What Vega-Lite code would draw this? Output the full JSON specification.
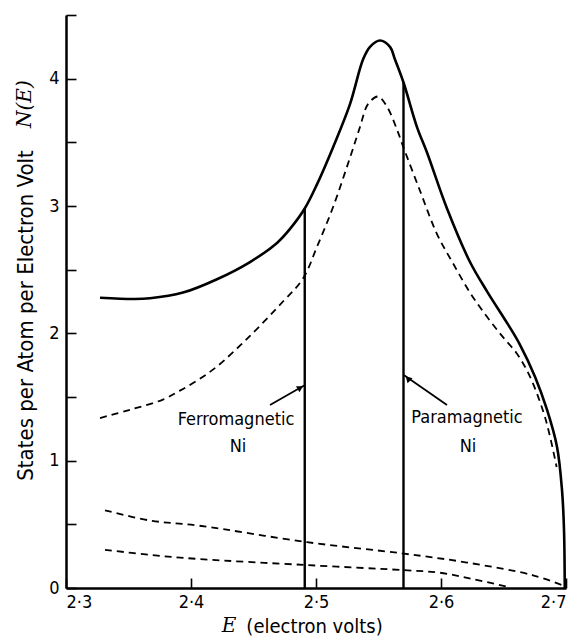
{
  "$schema": "https://vega.github.io/schema/vega-lite/v6.json",
  "width": 500,
  "height": 573,
  "autosize": "none",
  "padding": {"left": 66, "top": 15, "right": 11, "bottom": 54},
  "background": "white",
  "config": {
    "view": {"stroke": null},
    "font": "DejaVu Sans Condensed",
    "axis": {
      "grid": false,
      "domainColor": "black",
      "domainWidth": 2.5,
      "tickColor": "black",
      "tickWidth": 1.6,
      "tickSize": -10,
      "labelColor": "black",
      "labelFont": "DejaVu Sans Condensed",
      "labelFontSize": 18,
      "titleColor": "black",
      "titleFont": "DejaVu Sans Condensed",
      "titleFontWeight": "normal"
    }
  },
  "datasets": {
    "curves": [
      {"s": "total", "E": 2.3272, "N": 2.28},
      {"s": "total", "E": 2.3536, "N": 2.27},
      {"s": "total", "E": 2.3672, "N": 2.275},
      {"s": "total", "E": 2.3936, "N": 2.32},
      {"s": "total", "E": 2.4208, "N": 2.425},
      {"s": "total", "E": 2.4472, "N": 2.56},
      {"s": "total", "E": 2.4688, "N": 2.71},
      {"s": "total", "E": 2.4792, "N": 2.82},
      {"s": "total", "E": 2.491, "N": 2.98},
      {"s": "total", "E": 2.5008, "N": 3.17},
      {"s": "total", "E": 2.5136, "N": 3.46},
      {"s": "total", "E": 2.5272, "N": 3.80},
      {"s": "total", "E": 2.5376, "N": 4.15},
      {"s": "total", "E": 2.5432, "N": 4.25},
      {"s": "total", "E": 2.5512, "N": 4.30},
      {"s": "total", "E": 2.5592, "N": 4.25},
      {"s": "total", "E": 2.5632, "N": 4.15},
      {"s": "total", "E": 2.57, "N": 3.97},
      {"s": "total", "E": 2.5808, "N": 3.62},
      {"s": "total", "E": 2.5888, "N": 3.42},
      {"s": "total", "E": 2.6048, "N": 2.98},
      {"s": "total", "E": 2.6232, "N": 2.56},
      {"s": "total", "E": 2.6368, "N": 2.33},
      {"s": "total", "E": 2.6536, "N": 2.07},
      {"s": "total", "E": 2.6632, "N": 1.91},
      {"s": "total", "E": 2.6752, "N": 1.66},
      {"s": "total", "E": 2.6848, "N": 1.40},
      {"s": "total", "E": 2.6928, "N": 1.11},
      {"s": "total", "E": 2.6968, "N": 0.77},
      {"s": "total", "E": 2.6984, "N": 0.46},
      {"s": "total", "E": 2.699, "N": 0.0},
      {"s": "d", "E": 2.3272, "N": 1.335},
      {"s": "d", "E": 2.3512, "N": 1.40},
      {"s": "d", "E": 2.3776, "N": 1.48},
      {"s": "d", "E": 2.3912, "N": 1.55},
      {"s": "d", "E": 2.405, "N": 1.63},
      {"s": "d", "E": 2.4208, "N": 1.74},
      {"s": "d", "E": 2.4472, "N": 1.98},
      {"s": "d", "E": 2.4736, "N": 2.25},
      {"s": "d", "E": 2.4896, "N": 2.43},
      {"s": "d", "E": 2.5008, "N": 2.68},
      {"s": "d", "E": 2.5136, "N": 2.99},
      {"s": "d", "E": 2.5272, "N": 3.38},
      {"s": "d", "E": 2.5352, "N": 3.62},
      {"s": "d", "E": 2.5416, "N": 3.80},
      {"s": "d", "E": 2.5496, "N": 3.86},
      {"s": "d", "E": 2.5568, "N": 3.78},
      {"s": "d", "E": 2.5648, "N": 3.60},
      {"s": "d", "E": 2.5696, "N": 3.47},
      {"s": "d", "E": 2.5832, "N": 3.12},
      {"s": "d", "E": 2.5968, "N": 2.78},
      {"s": "d", "E": 2.6096, "N": 2.55},
      {"s": "d", "E": 2.6232, "N": 2.32},
      {"s": "d", "E": 2.6368, "N": 2.13},
      {"s": "d", "E": 2.6496, "N": 1.97},
      {"s": "d", "E": 2.6608, "N": 1.84},
      {"s": "d", "E": 2.6712, "N": 1.66},
      {"s": "d", "E": 2.682, "N": 1.38},
      {"s": "d", "E": 2.6872, "N": 1.19},
      {"s": "d", "E": 2.6925, "N": 0.95},
      {"s": "a", "E": 2.3312, "N": 0.61},
      {"s": "a", "E": 2.3672, "N": 0.53},
      {"s": "a", "E": 2.406, "N": 0.49},
      {"s": "a", "E": 2.4928, "N": 0.36},
      {"s": "a", "E": 2.5704, "N": 0.27},
      {"s": "a", "E": 2.6208, "N": 0.20},
      {"s": "a", "E": 2.6736, "N": 0.10},
      {"s": "a", "E": 2.6976, "N": 0.02},
      {"s": "b", "E": 2.3312, "N": 0.30},
      {"s": "b", "E": 2.3672, "N": 0.26},
      {"s": "b", "E": 2.406, "N": 0.228},
      {"s": "b", "E": 2.4928, "N": 0.18},
      {"s": "b", "E": 2.5704, "N": 0.14},
      {"s": "b", "E": 2.5992, "N": 0.12},
      {"s": "b", "E": 2.6256, "N": 0.07},
      {"s": "b", "E": 2.6528, "N": 0.01}
    ],
    "edges": [
      {"name": "Ferromagnetic Ni", "E": 2.491, "N": 2.98},
      {"name": "Paramagnetic Ni", "E": 2.57, "N": 3.97}
    ],
    "arrows": [
      {"id": "ferro", "E": 2.4632, "N": 1.437},
      {"id": "ferro", "E": 2.4905, "N": 1.59},
      {"id": "para", "E": 2.6048, "N": 1.437},
      {"id": "para", "E": 2.5705, "N": 1.67}
    ],
    "heads": [
      {"id": "ferro", "E": 2.4875, "N": 1.573},
      {"id": "para", "E": 2.5735, "N": 1.645}
    ],
    "labels": [
      {"t": "Ferromagnetic", "E": 2.436, "N": 1.32},
      {"t": "Ni", "E": 2.4376, "N": 1.11},
      {"t": "Paramagnetic", "E": 2.6208, "N": 1.335},
      {"t": "Ni", "E": 2.6216, "N": 1.11}
    ],
    "symbols": [
      {"t": "N(E)", "E": 2.2672, "N": 3.80, "axis": "y"},
      {"t": "E", "E": 2.4305, "N": -0.30, "axis": "x"}
    ]
  },
  "encoding": {
    "x": {
      "field": "E", "type": "quantitative",
      "scale": {"domain": [2.3, 2.7], "nice": false, "zero": false},
      "axis": {
        "values": [2.3, 2.4, 2.5, 2.6, 2.7],
        "labelExpr": "replace(format(datum.value, '.1f'), '.', '·')",
        "labelPadding": 15,
        "title": "(electron volts)",
        "titleFontSize": 20,
        "titleX": 248,
        "titleY": 38,
        "titleAlign": "center",
        "titleBaseline": "middle"
      }
    },
    "y": {
      "field": "N", "type": "quantitative",
      "scale": {"domain": [0, 4.5], "nice": false},
      "axis": {
        "values": [0, 0.5, 1, 1.5, 2, 2.5, 3, 3.5, 4, 4.5],
        "labelExpr": "datum.value % 1 === 0 ? format(datum.value, 'd') : ''",
        "labelPadding": 17,
        "title": "States per Atom per Electron Volt",
        "titleFontSize": 22,
        "titleAngle": 270,
        "titleX": -41,
        "titleY": 300,
        "titleAlign": "center",
        "titleBaseline": "middle"
      }
    }
  },
  "layer": [
    {
      "data": {"name": "curves"},
      "transform": [{"filter": "datum.s === 'total'"}],
      "mark": {"type": "line", "color": "black", "strokeWidth": 2.6, "interpolate": "catmull-rom"},
      "encoding": {"detail": {"field": "s"}}
    },
    {
      "data": {"name": "curves"},
      "transform": [{"filter": "datum.s !== 'total'"}],
      "mark": {"type": "line", "color": "black", "strokeWidth": 1.8, "strokeDash": [7, 5], "interpolate": "catmull-rom"},
      "encoding": {"detail": {"field": "s"}}
    },
    {
      "data": {"name": "edges"},
      "mark": {"type": "rule", "color": "black", "strokeWidth": 2.4},
      "encoding": {"y2": {"datum": 0}}
    },
    {
      "data": {"name": "arrows"},
      "mark": {"type": "line", "color": "black", "strokeWidth": 1.8},
      "encoding": {"detail": {"field": "id"}}
    },
    {
      "data": {"name": "heads"},
      "transform": [{"filter": "datum.id === 'ferro'"}],
      "mark": {"type": "point", "shape": "triangle-right", "angle": -30, "filled": true, "color": "black", "size": 50, "opacity": 1}
    },
    {
      "data": {"name": "heads"},
      "transform": [{"filter": "datum.id === 'para'"}],
      "mark": {"type": "point", "shape": "triangle-left", "angle": 45, "filled": true, "color": "black", "size": 50, "opacity": 1}
    },
    {
      "data": {"name": "labels"},
      "mark": {"type": "text", "font": "DejaVu Sans Condensed", "fontSize": 18, "color": "black", "align": "center", "baseline": "middle"},
      "encoding": {"text": {"field": "t"}}
    },
    {
      "data": {"name": "symbols"},
      "transform": [{"filter": "datum.axis === 'y'"}],
      "mark": {"type": "text", "font": "DejaVu Serif", "fontStyle": "italic", "fontSize": 20, "color": "black", "angle": 270, "align": "center", "baseline": "middle"},
      "encoding": {"text": {"field": "t"}}
    },
    {
      "data": {"name": "symbols"},
      "transform": [{"filter": "datum.axis === 'x'"}],
      "mark": {"type": "text", "font": "DejaVu Serif", "fontStyle": "italic", "fontSize": 20, "color": "black", "align": "center", "baseline": "middle"},
      "encoding": {"text": {"field": "t"}}
    }
  ]
}
